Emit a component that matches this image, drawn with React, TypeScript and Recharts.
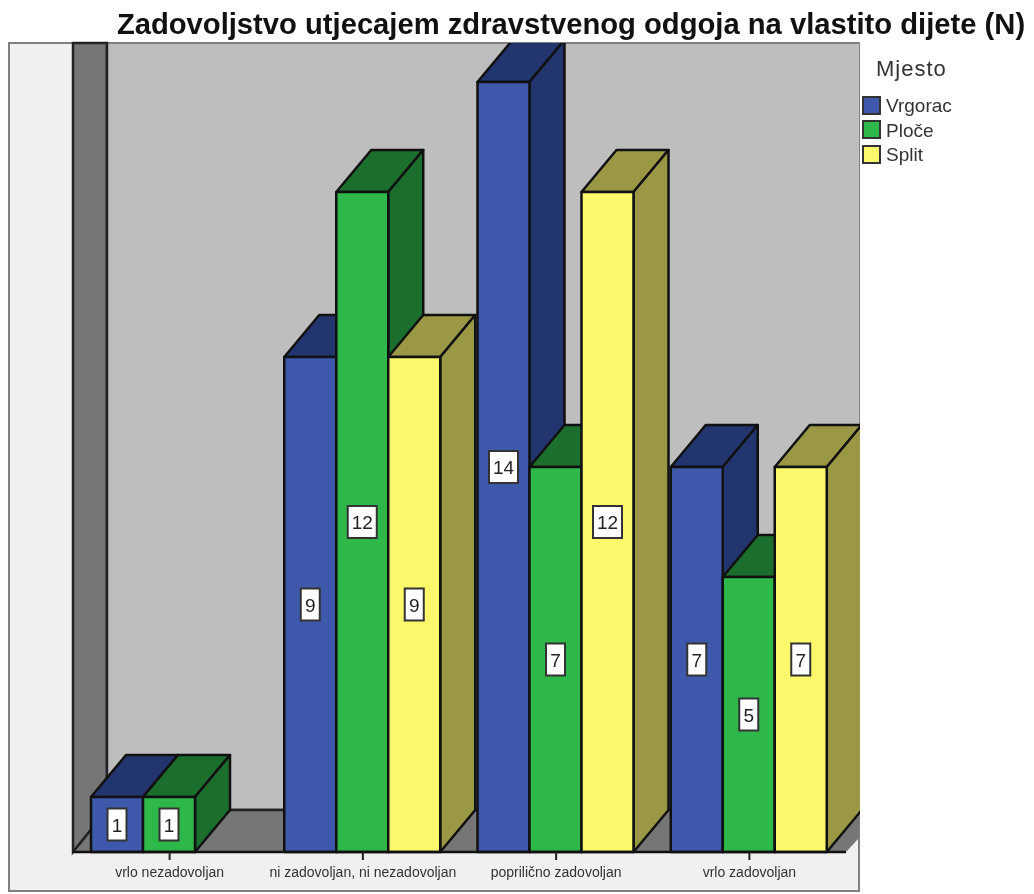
import React from 'react';
import { BarChart, Bar, XAxis, YAxis, LabelList } from 'recharts';

const categories = ['vrlo nezadovoljan', 'ni zadovoljan, ni nezadovoljan', 'poprilično zadovoljan', 'vrlo zadovoljan'];
const vrgorac = [1, 9, 14, 7];
const ploce = [1, 12, 7, 5];
const split = [null, 9, 12, 7];

const data = categories.map((name, i) => ({ name, Vrgorac: vrgorac[i], 'Ploče': ploce[i], Split: split[i] }));

const colors: Record<string, { front: string; dark: string }> = {
  Vrgorac: { front: '#3e58ac', dark: '#23356e' },
  'Ploče': { front: '#2fb84a', dark: '#1c6e2c' },
  Split: { front: '#fcf86c', dark: '#9b9845' },
};

const DX = 35;
const DY = -42;
const FONT = '"Liberation Sans", Arial, sans-serif';

// bars are drawn as boxes, the depth part gets clipped by the frame
const Box3D = (props: any) => {
  const { x, y, width, height, dataKey } = props;
  if (!height) return null;
  const c = colors[dataKey];
  const edge = { stroke: '#111', strokeWidth: 2.5, strokeLinejoin: 'round' as const };
  return (
    <g>
      <g clipPath="url(#frameClip)">
        <path d={`M${x},${y} l${DX},${DY} h${width} l${-DX},${-DY} z`} fill={c.dark} {...edge} />
        <path d={`M${x + width},${y} l${DX},${DY} v${height} l${-DX},${-DY} z`} fill={c.dark} {...edge} />
      </g>
      <rect x={x} y={y} width={width} height={height} fill={c.front} {...edge} />
    </g>
  );
};

const ValueBox = (props: any) => {
  const { x, y, width, height, value } = props;
  if (value == null) return null;
  const w = value > 9 ? 29 : 19;
  const cx = x + width / 2;
  const cy = y + height / 2;
  return (
    <g>
      <rect x={cx - w / 2} y={cy - 16} width={w} height={32} fill="#fff" stroke="#333" strokeWidth={2} />
      <text x={cx} y={cy + 7} textAnchor="middle" fontSize={19} fontFamily={FONT} fill="#222">{value}</text>
    </g>
  );
};

const LegendBlock = () => (
  <div style={{ position: 'absolute', left: 862, top: 56, fontFamily: FONT, color: '#333' }}>
    <div style={{ fontSize: 22, marginLeft: 14, lineHeight: '26px', letterSpacing: 1, marginBottom: 11 }}>Mjesto</div>
    {Object.keys(colors).map((k) => (
      <div key={k} style={{ display: 'flex', alignItems: 'center', height: 24.5 }}>
        <span style={{ width: 15, height: 15, background: colors[k].front, border: '2px solid #333', marginRight: 5 }} />
        <span style={{ fontSize: 19, position: 'relative', top: 1 }}>{k}</span>
      </div>
    ))}
  </div>
);

export default function App() {
  return (
    <div style={{ position: 'absolute', left: 0, top: 0, width: 1034, height: 894, background: '#fff', filter: 'blur(0.6px)' }}>
      <BarChart
        width={1034}
        height={894}
        data={data}
        margin={{ top: 27, right: 188, bottom: 12, left: 73 }}
        barCategoryGap={18}
        barGap={0}
      >
        <defs>
          <clipPath id="frameClip"><rect x={9} y={43} width={851} height={848} /></clipPath>
        </defs>
        <rect x={9} y={43} width={850} height={848} fill="#f0f0f0" stroke="#808080" strokeWidth={2} />
        <path d="M73,43 H107 V810 L73,852 Z" fill="#767676" stroke="#222" strokeWidth={2.5} />
        <rect x={107} y={44} width={752} height={766} fill="#bebebe" />
        <path d="M107,44 V810 H859" fill="none" stroke="#222" strokeWidth={2.5} />
        <path d="M73,852 L107,810 H859 V838 L846,852 Z" fill="#767676" />
        <path d="M73,852 L107,810 H859" fill="none" stroke="#222" strokeWidth={2.5} />
        <text x={571} y={34} textAnchor="middle" fontFamily={FONT} fontWeight="bold" fontSize={29.2} fill="#111">
          Zadovoljstvo utjecajem zdravstvenog odgoja na vlastito dijete (N)
        </text>
        <XAxis
          dataKey="name"
          interval={0}
          tick={{ fontSize: 14, fontFamily: FONT, fill: '#333' }}
          tickSize={8}
          tickMargin={7}
          tickLine={{ stroke: '#222', strokeWidth: 2 }}
          axisLine={{ stroke: '#111', strokeWidth: 2.5 }}
        />
        <YAxis hide domain={[0, 15]} />
        {Object.keys(colors).map((k) => (
          <Bar key={k} dataKey={k} fill={colors[k].front} isAnimationActive={false} shape={Box3D}>
            <LabelList dataKey={k} content={ValueBox} />
          </Bar>
        ))}
      </BarChart>
      <LegendBlock />
    </div>
  );
}
